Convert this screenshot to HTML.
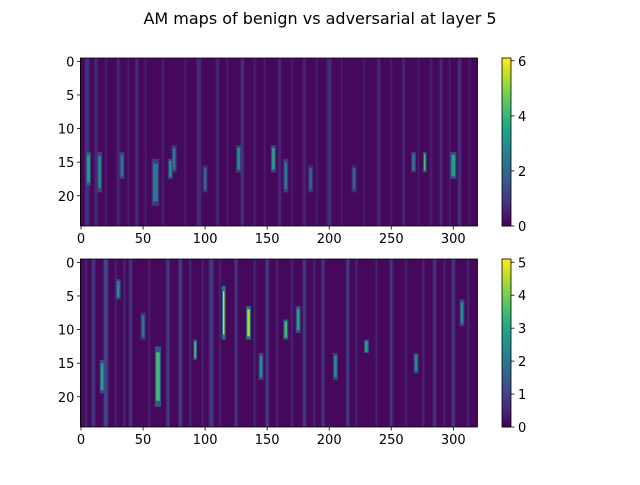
<!DOCTYPE html>
<html><head><meta charset="utf-8"><style>
body{margin:0;background:#fff;width:640px;height:480px;overflow:hidden}
text{font-family:"DejaVu Sans","Liberation Sans",sans-serif;fill:#000}
</style></head><body>
<svg id="fig" width="640" height="480" xmlns="http://www.w3.org/2000/svg">
<text x="320" y="24" font-size="16" text-anchor="middle">AM maps of benign vs adversarial at layer 5</text>
</svg>
<script>
const xTicks=[0,50,100,150,200,250,300];
const yTicks=[0,5,10,15,20];
const nCols=320, nRows=25;
// streaks: [column, rowStart, rowEnd, value, widthCols]
const benignStreaks=[
[5,0,25,1.0,3],[12,0,25,0.8,2],[45,0,25,0.9,2],[95,0,25,0.9,3],[110,0,25,0.8,2],[130,0,25,1.0,2],[160,0,25,0.8,2],[200,0,25,0.9,3],[240,0,25,0.8,2],[290,0,25,0.8,2],[305,0,25,1.0,2],[30,0,25,0.7,2],[180,0,25,0.7,2],[260,0,25,0.7,2],
[20,0,25,0.6,1],[38,0,25,0.6,1],[52,0,25,0.6,1],[66,0,25,0.7,1],[84,0,25,0.6,1],[118,0,25,0.6,1],[140,0,25,0.7,1],[148,0,25,0.6,1],[170,0,25,0.6,1],[190,0,25,0.6,1],[210,0,25,0.6,1],[228,0,25,0.6,1],[250,0,25,0.6,1],[272,0,25,0.6,1],[282,0,25,0.7,1],[297,0,25,0.6,1],[313,0,25,0.6,1],
[6,14,19,3.5,2],[15,14,20,3,2],[33,14,18,2.5,2],[60,15,22,2.5,4],[72,15,18,3,2],[75,13,17,2.5,2],[100,16,20,2,2],[127,13,17,3,2],[155,13,17,3.5,2],[165,15,20,2.5,2],[185,16,20,2,2],[220,16,20,2,2],[268,14,17,2.5,2],[277,14,17,4.5,1],[300,14,18,3.5,3]];
const advStreaks=[
[10,0,25,1.0,2],[20,0,25,1.2,3],[40,0,25,0.9,2],[70,0,25,1.0,2],[80,0,25,1.1,2],[105,0,25,1.0,3],[125,0,25,0.9,2],[150,0,25,1.0,2],[180,0,25,1.0,2],[195,0,25,0.9,2],[215,0,25,1.0,2],[250,0,25,0.9,2],[285,0,25,0.9,2],[300,0,25,1.0,2],
[4,0,25,0.7,1],[28,0,25,0.6,1],[35,0,25,0.7,1],[55,0,25,0.6,1],[88,0,25,0.7,1],[98,0,25,0.6,1],[112,0,25,0.6,1],[140,0,25,0.7,1],[158,0,25,0.6,1],[170,0,25,0.7,1],[188,0,25,0.6,1],[222,0,25,0.7,1],[238,0,25,0.6,1],[262,0,25,0.6,1],[276,0,25,0.7,1],[293,0,25,0.6,1],[312,0,25,0.7,1],
[115,4,12,5,1],[135,7,12,4.5,2],[92,12,15,4,1],[165,9,12,3.5,2],[62,13,22,3.5,3],[17,15,20,3,2],[230,12,14,3,2],[175,7,11,3,2],[30,3,6,2.5,2],[205,14,18,2.5,2],[270,14,17,2.5,2],[307,6,10,2.5,2],[145,14,18,2.5,2],[50,8,12,2,2]];
const benignMax=6.1, advMax=5.1;
const cbTicks1=[0,2,4,6], cbTicks2=[0,1,2,3,4,5];

const stops=["#440154","#482475","#414487","#355f8d","#2a788e","#21918c","#22a884","#44bf70","#7ad151","#bddf26","#fde725"];
function hex(h){return [1,3,5].map(i=>parseInt(h.substr(i,2),16));}
function viridis(t){t=Math.max(0,Math.min(1,t));const p=t*10,i=Math.min(9,Math.floor(p)),f=p-i;
const a=hex(stops[i]),b=hex(stops[i+1]);return "rgb("+a.map((v,k)=>Math.round(v+(b[k]-v)*f)).join(",")+")";}
const NS="http://www.w3.org/2000/svg",svg=document.getElementById("fig");
function el(tag,attrs,parent){const e=document.createElementNS(NS,tag);for(const k in attrs)e.setAttribute(k,attrs[k]);(parent||svg).appendChild(e);return e;}

function panel(top,streaks,vmax,cbTicks,name){
  const L=80.4,R=477.5,B=top+168;
  const sx=c=>L+(c+0.5)*(R-L)/nCols, sy=r=>top+(r+0.5)*(B-top)/nRows;
  const g=el("g",{});
  
  
  el("rect",{x:L,y:top,width:R-L,height:B-top,fill:viridis(0.02)},g);
  const cw=(R-L)/nCols,rh=(B-top)/nRows;
  streaks.forEach(s=>{
    const [c,r0,r1,v,w]=s;
    const full=(r1-r0)>=nRows;
    const x=sx(c)-cw*w/2,y=sy(r0)-rh/2,h=(r1-r0)*rh;
    const halo=el("rect",{x:x-cw,y:y,width:cw*(w+2),height:h,fill:viridis(v*0.5/vmax),opacity:full?0.6:0.8},g);
    
    
    const r=el("rect",{x:x,y:full?y:y+h*0.1,width:cw*w,height:full?h:h*0.8,fill:viridis(v/vmax),opacity:full?0.8:1},g);
    
    
  });
  el("rect",{x:L,y:top,width:R-L,height:B-top,fill:"none",stroke:"#000","stroke-width":0.8},g);
  xTicks.forEach(t=>{const x=sx(t);el("line",{x1:x,x2:x,y1:B,y2:B+3.5,stroke:"#000","stroke-width":0.8},g);
    const tx=el("text",{x:x,y:B+17,"font-size":13,"text-anchor":"middle"},g);tx.textContent=t;
    });
  yTicks.forEach(t=>{const y=sy(t);el("line",{x1:L,x2:L-3.5,y1:y,y2:y,stroke:"#000","stroke-width":0.8},g);
    const tx=el("text",{x:L-6,y:y+5,"font-size":13,"text-anchor":"end"},g);tx.textContent=t;
    });
  const cb=el("g",{});
  
  
  const cx=502,cwid=9,n=84;
  for(let i=0;i<n;i++){el("rect",{x:cx,y:B-(i+1)*168/n,width:cwid,height:168/n+0.5,fill:viridis((i+0.5)/n)},cb);}
  el("rect",{x:cx,y:top,width:cwid,height:168,fill:"none",stroke:"#000","stroke-width":0.8},cb);
  cbTicks.forEach(t=>{const y=B-t/vmax*168;el("line",{x1:cx+cwid,x2:cx+cwid+3.5,y1:y,y2:y,stroke:"#000","stroke-width":0.8},cb);
    const tx=el("text",{x:cx+cwid+7,y:y+5,"font-size":13},cb);tx.textContent=t;
    });
}
panel(58,benignStreaks,benignMax,cbTicks1,'benign');
panel(259,advStreaks,advMax,cbTicks2,'adversarial');
</script>
</body></html>
